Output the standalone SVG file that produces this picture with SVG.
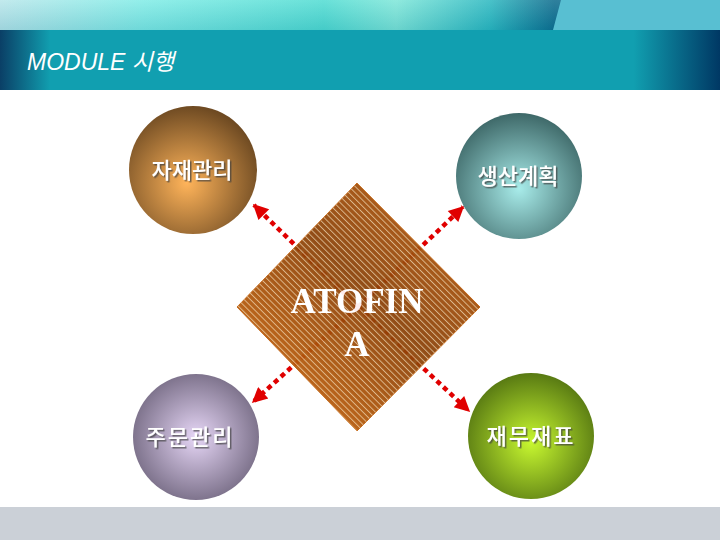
<svg xmlns="http://www.w3.org/2000/svg" width="720" height="540" viewBox="0 0 720 540">
<defs>
<style>
.lbl{font-family:"Noto Sans CJK KR","Noto Sans",sans-serif;font-size:22px;font-weight:500;fill:#ffffff;text-anchor:middle;filter:url(#ds)}
.conn{stroke:#e00000;stroke-width:4.5;stroke-dasharray:5 4;fill:none}
</style>
<filter id="ds" x="-10%" y="-20%" width="130%" height="150%">
<feDropShadow dx="1.5" dy="1.5" stdDeviation="0.6" flood-color="#404040" flood-opacity="0.7"/>
</filter>
<linearGradient id="topband" x1="0" y1="0" x2="1" y2="0">
<stop offset="0" stop-color="#b8e6ea"/>
<stop offset="0.2" stop-color="#7fece6"/>
<stop offset="0.45" stop-color="#4fdcd2"/>
<stop offset="0.55" stop-color="#7ce6d8"/>
<stop offset="0.68" stop-color="#2ab8c0"/>
<stop offset="0.77" stop-color="#0a6a8c"/>
</linearGradient>
<linearGradient id="topshade" x1="0" y1="0" x2="0" y2="1">
<stop offset="0" stop-color="#ffffff" stop-opacity="0.15"/>
<stop offset="1" stop-color="#0a6a8c" stop-opacity="0.15"/>
</linearGradient>
<linearGradient id="band" x1="0" y1="0" x2="1" y2="0">
<stop offset="0" stop-color="#0a3f66"/>
<stop offset="0.07" stop-color="#119fb0"/>
<stop offset="0.88" stop-color="#119fb0"/>
<stop offset="1" stop-color="#003864"/>
</linearGradient>
<radialGradient id="g1" cx="0.45" cy="0.6" r="0.6">
<stop offset="0" stop-color="#ffb45a"/>
<stop offset="1" stop-color="#6e4a22"/>
</radialGradient>
<radialGradient id="g2" cx="0.5" cy="0.6" r="0.6">
<stop offset="0" stop-color="#a8ecea"/>
<stop offset="1" stop-color="#3e6868"/>
</radialGradient>
<radialGradient id="g3" cx="0.5" cy="0.5" r="0.6">
<stop offset="0" stop-color="#e6d6f6"/>
<stop offset="1" stop-color="#6a6078"/>
</radialGradient>
<radialGradient id="g4" cx="0.5" cy="0.55" r="0.6">
<stop offset="0" stop-color="#c8f830"/>
<stop offset="1" stop-color="#4e6e10"/>
</radialGradient>
<linearGradient id="dg" x1="0" y1="1" x2="1" y2="0">
<stop offset="0" stop-color="#d86e0e"/>
<stop offset="0.55" stop-color="#8a4006"/>
<stop offset="1" stop-color="#c06010"/>
</linearGradient>
<pattern id="stripes" width="4.4" height="10" patternUnits="userSpaceOnUse" patternTransform="rotate(-45)">
<line x1="0.5" y1="0" x2="0.5" y2="10" stroke="#fff0d0" stroke-width="0.7" stroke-opacity="0.9"/>
</pattern>
<marker id="ah" viewBox="0 0 10 10" refX="9" refY="5" markerWidth="4.5" markerHeight="3.4" orient="auto" markerUnits="strokeWidth">
<path d="M0,0 L10,5 L0,10 z" fill="#e00000"/>
</marker>
</defs>

<rect width="720" height="540" fill="#ffffff"/>

<g id="header">
<rect x="0" y="0" width="720" height="30" fill="url(#topband)"/>
<rect x="0" y="0" width="720" height="30" fill="url(#topshade)"/>
<polygon points="561,0 720,0 720,30 553,30" fill="#58bfd2"/>
<rect x="0" y="30" width="720" height="60" fill="url(#band)"/>
<text x="27" y="70" font-family="'Liberation Sans','Noto Sans CJK KR',sans-serif" font-size="23" font-style="italic" fill="#ffffff">MODULE 시행</text>
</g>

<rect id="footer" x="0" y="507" width="720" height="33" fill="#cbd0d7"/>

<g id="connectors">
<line class="conn" x1="358" y1="307" x2="254" y2="205" marker-end="url(#ah)"/>
<line class="conn" x1="358" y1="307" x2="463" y2="207" marker-end="url(#ah)"/>
<line class="conn" x1="358" y1="307" x2="253" y2="402" marker-end="url(#ah)"/>
<line class="conn" x1="358" y1="307" x2="469" y2="411" marker-end="url(#ah)"/>
</g>

<g id="node-center" opacity="0.93">
<polygon points="357,183 480,307 357,431 237,307" fill="url(#dg)" stroke="#c0600c" stroke-width="1"/>
<polygon points="357,183 480,307 357,431 237,307" fill="url(#stripes)"/>
<text x="357" y="313" font-family="'Liberation Serif',serif" font-size="35" font-weight="bold" fill="#ffffff" text-anchor="middle">ATOFIN</text>
<text x="357" y="356" font-family="'Liberation Serif',serif" font-size="35" font-weight="bold" fill="#ffffff" text-anchor="middle">A</text>
</g>

<g id="node-jajae">
<circle cx="193" cy="170" r="64" fill="url(#g1)"/>
<text class="lbl" x="192" y="178">자재관리</text>
</g>

<g id="node-saengsan">
<circle cx="519" cy="176" r="63" fill="url(#g2)"/>
<text class="lbl" x="518" y="184">생산계획</text>
</g>

<g id="node-jumun">
<circle cx="196" cy="437" r="63" fill="url(#g3)"/>
<text class="lbl" x="190" y="445" letter-spacing="2">주문관리</text>
</g>

<g id="node-jaemu">
<circle cx="531" cy="436" r="63" fill="url(#g4)"/>
<text class="lbl" x="531" y="444" letter-spacing="2">재무재표</text>
</g>
</svg>
